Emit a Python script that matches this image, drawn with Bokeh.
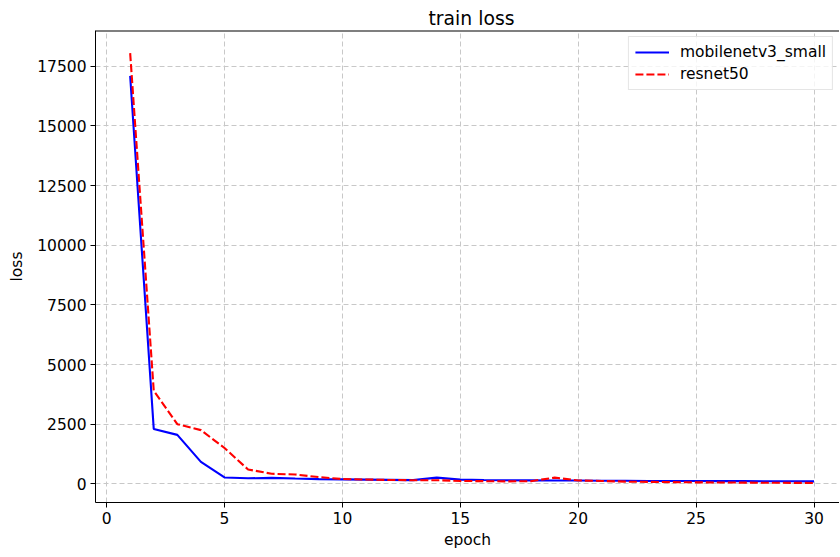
from bokeh.plotting import figure
from bokeh.models import Range1d, FixedTicker, Legend, LegendItem, Span
from bokeh.embed import file_html
from bokeh.resources import INLINE

epochs = list(range(1, 31))
mobilenetv3_small = [17100, 2300, 2050, 920, 265, 230, 250, 220, 195, 185,
                     175, 165, 155, 260, 175, 160, 150, 145, 140, 135,
                     130, 125, 120, 118, 115, 112, 110, 108, 105, 100]
resnet50 = [18050, 3900, 2500, 2250, 1500, 600, 420, 390, 280, 200,
            180, 160, 150, 150, 120, 110, 100, 110, 260, 140,
            120, 90, 80, 70, 60, 55, 50, 45, 40, 35]
x_ticks = [0, 5, 10, 15, 20, 25, 30]
y_ticks = [0, 2500, 5000, 7500, 10000, 12500, 15000, 17500]

FONT = "DejaVu Sans"
FS = "15.5px"

Y_TOP = 19000
p = figure(width=840, height=555, output_backend="svg", toolbar_location=None,
           frame_width=744, frame_height=472,
           min_border_left=95, min_border_right=0, min_border_top=30, min_border_bottom=53,
           x_range=Range1d(-0.47, 31.08), y_range=Range1d(-784, Y_TOP),
           title="train loss")

p.title.align = "left"
p.title.offset = 333
p.title.text_font = FONT
p.title.text_font_size = "18.8px"
p.title.text_font_style = "normal"
p.title.text_color = "black"
p.title.standoff = 3

p.outline_line_color = None
p.background_fill_color = "white"
p.border_fill_color = "white"

for ax, ticks, label in ((p.xaxis[0], x_ticks, "epoch"), (p.yaxis[0], y_ticks, "loss")):
    ax.ticker = FixedTicker(ticks=ticks)
    ax.axis_label = label
    ax.axis_label_text_font = FONT
    ax.axis_label_text_font_size = FS
    ax.axis_label_text_font_style = "normal"
    ax.axis_label_text_color = "black"
    ax.major_label_text_font = FONT
    ax.major_label_text_font_size = FS
    ax.major_label_text_color = "black"
    ax.minor_tick_line_color = None
    ax.major_tick_in = 0
    ax.major_tick_out = 5
    ax.axis_line_color = "black"
    ax.axis_line_width = 1
    ax.major_tick_line_color = "black"
    ax.axis_label_standoff = 4
    ax.major_label_standoff = 4
p.yaxis[0].axis_label_standoff = 8

p.add_layout(Span(location=Y_TOP, dimension="width", line_color="black", line_width=2))

for g in (p.xgrid[0], p.ygrid[0]):
    g.grid_line_color = "#c8c8c8"
    g.grid_line_dash = "5 3"
    g.grid_line_width = 1

r1 = p.line(epochs, mobilenetv3_small, line_color="blue", line_width=2.1)
r2 = p.line(epochs, resnet50, line_color="red", line_width=2.1, line_dash="8 3")

legend = Legend(items=[LegendItem(label="mobilenetv3_small", renderers=[r1]),
                       LegendItem(label="resnet50", renderers=[r2])],
                location="top_right")
legend.label_text_font = FONT
legend.label_text_font_size = FS
legend.label_text_color = "black"
legend.border_line_color = "#cccccc"
legend.border_line_width = 1
legend.background_fill_alpha = 0.8
legend.glyph_width = 34
legend.glyph_height = 16
legend.label_standoff = 11
legend.spacing = 4
legend.padding = 6
legend.margin = 6
p.add_layout(legend)

open("out.html", "w").write(file_html(p, INLINE))
